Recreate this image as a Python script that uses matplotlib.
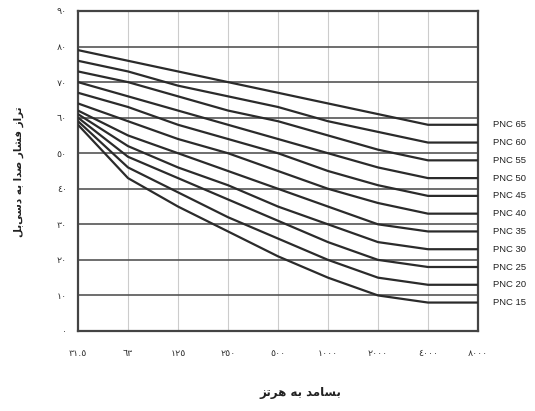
#!/usr/bin/env python3
"""PNC (preferred noise criterion) curves, persian labels."""

import matplotlib
matplotlib.use("Agg")
import matplotlib.pyplot as plt
import numpy as np

freq_labels = ["31.5", "63", "125", "250", "500", "1000", "2000", "4000", "8000"]
y_ticks = [0, 10, 20, 30, 40, 50, 60, 70, 80, 90]

pnc_names = ["PNC 15", "PNC 20", "PNC 25", "PNC 30", "PNC 35", "PNC 40",
             "PNC 45", "PNC 50", "PNC 55", "PNC 60", "PNC 65"]
pnc15 = [58, 43, 35, 28, 21, 15, 10, 8, 8]
pnc20 = [59, 46, 39, 32, 26, 20, 15, 13, 13]
pnc25 = [60, 49, 43, 37, 31, 25, 20, 18, 18]
pnc30 = [61, 52, 46, 41, 35, 30, 25, 23, 23]
pnc35 = [62, 55, 50, 45, 40, 35, 30, 28, 28]
pnc40 = [64, 59, 54, 50, 45, 40, 36, 33, 33]
pnc45 = [67, 63, 58, 54, 50, 45, 41, 38, 38]
pnc50 = [70, 66, 62, 58, 54, 50, 46, 43, 43]
pnc55 = [73, 70, 66, 62, 59, 55, 51, 48, 48]
pnc60 = [76, 73, 69, 66, 63, 59, 56, 53, 53]
pnc65 = [79, 76, 73, 70, 67, 64, 61, 58, 58]
curves = [pnc15, pnc20, pnc25, pnc30, pnc35, pnc40,
          pnc45, pnc50, pnc55, pnc60, pnc65]

x_title = "بسامد به هرتز"
y_title = "تراز فشار صدا به دسی\u200cبل"

# minimal arabic shaping: (isolated, final, initial, medial)
FORMS = {
    "\u0627": (0xFE8D, 0xFE8E),
    "\u0628": (0xFE8F, 0xFE90, 0xFE91, 0xFE92),
    "\u062A": (0xFE95, 0xFE96, 0xFE97, 0xFE98),
    "\u062F": (0xFEA9, 0xFEAA),
    "\u0631": (0xFEAD, 0xFEAE),
    "\u0632": (0xFEAF, 0xFEB0),
    "\u0633": (0xFEB1, 0xFEB2, 0xFEB3, 0xFEB4),
    "\u0634": (0xFEB5, 0xFEB6, 0xFEB7, 0xFEB8),
    "\u0635": (0xFEB9, 0xFEBA, 0xFEBB, 0xFEBC),
    "\u0641": (0xFED1, 0xFED2, 0xFED3, 0xFED4),
    "\u0644": (0xFEDD, 0xFEDE, 0xFEDF, 0xFEE0),
    "\u0645": (0xFEE1, 0xFEE2, 0xFEE3, 0xFEE4),
    "\u0647": (0xFEE9, 0xFEEA, 0xFEEB, 0xFEEC),
    "\u06CC": (0xFBFC, 0xFBFD, 0xFBFE, 0xFBFF),
}


def shape(text):
    out = []
    for i, ch in enumerate(text):
        if ch not in FORMS:
            out.append(ch)
            continue
        prev = text[i - 1] if i > 0 else ""
        nxt = text[i + 1] if i + 1 < len(text) else ""
        f = FORMS[ch]
        join_prev = prev in FORMS and len(FORMS[prev]) == 4
        join_next = len(f) == 4 and nxt in FORMS
        if join_prev and join_next:
            code = f[3]
        elif join_prev:
            code = f[1]
        elif join_next:
            code = f[2]
        else:
            code = f[0]
        out.append(chr(code))
    return "".join(out).replace("\u200c", "")[::-1]


def arabic_digits(s):
    return s.translate(str.maketrans("0123456789", "٠١٢٣٤٥٦٧٨٩"))


plt.rcParams["font.family"] = ["DejaVu Sans"]

fig = plt.figure(figsize=(5.35, 4.11), dpi=100)
ax = fig.add_axes([78 / 535, 1 - 331 / 411, 400 / 535, 320 / 411])

x = np.arange(len(freq_labels))

for yv in y_ticks[1:-1]:
    ax.axhline(yv, color="#555555", lw=1.2, zorder=1)
for xv in x[1:-1]:
    ax.axvline(xv, color="#cccccc", lw=0.8, zorder=0)

for name, vals in zip(pnc_names, curves):
    ax.plot(x, vals, color="#2b2b2b", lw=1.6, zorder=3)
    ax.annotate(name, xy=(x[-1], vals[-1]), xytext=(11, 0),
                textcoords="offset points", va="center", ha="left",
                fontsize=6.8, family="Liberation Sans", color="#222222",
                annotation_clip=False)

ax.set_xlim(x[0], x[-1])
ax.set_ylim(0, 90)
ax.set_xticks(x)
ax.set_xticklabels([arabic_digits(s) for s in freq_labels], fontsize=6.8,
                   color="#333333")
ax.set_yticks(y_ticks)
ax.set_yticklabels([arabic_digits(str(v)) for v in y_ticks], fontsize=6.8,
                   color="#333333")
ax.tick_params(length=0, pad=8)
ax.tick_params(axis="x", pad=13)

for sp in ax.spines.values():
    sp.set_color("#444444")
    sp.set_linewidth(1.6)

fig.text(300 / 535, 1 - 392 / 411, shape(x_title), ha="center", va="center",
         fontsize=8.5, fontweight="bold", color="#222222")
fig.text(19 / 535, 1 - 172 / 411, shape(y_title), ha="center", va="center",
         rotation=90, fontsize=7.5, fontweight="bold", color="#222222")

fig.savefig("out.png", dpi=100)
